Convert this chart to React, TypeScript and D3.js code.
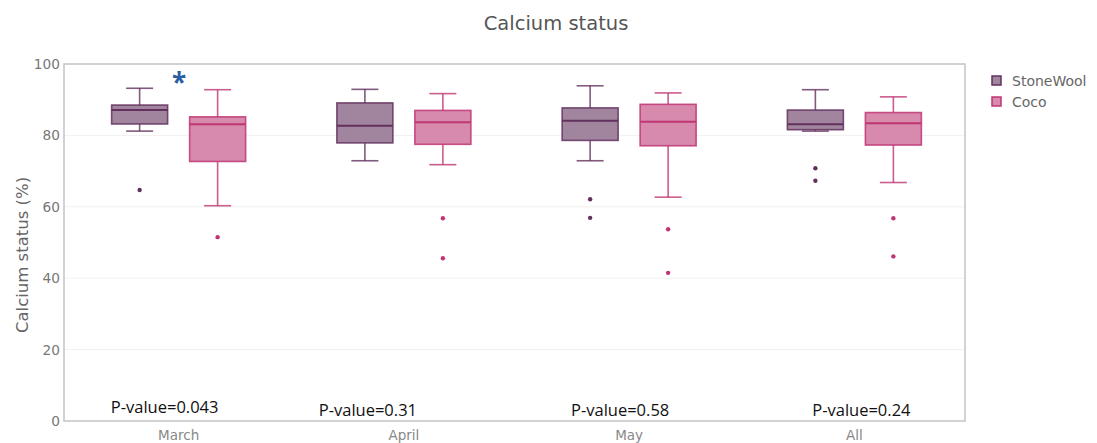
import React from 'react'
import * as d3 from 'd3'

// categories and series
const months = ['March', 'April', 'May', 'All']
const seriesNames = ['StoneWool', 'Coco']

// five-number summaries per month: [lowWhisker, q1, median, q3, highWhisker]
const stoneWoolBoxes = [
  [81.2, 83.2, 87.1, 88.5, 93.2],
  [72.9, 77.9, 82.7, 89.1, 92.9],
  [72.9, 78.6, 84.1, 87.7, 93.9],
  [81.2, 81.6, 83.1, 87.1, 92.8],
]
const cocoBoxes = [
  [60.3, 72.7, 83.1, 85.2, 92.8],
  [71.8, 77.5, 83.7, 87.0, 91.7],
  [62.7, 77.1, 83.8, 88.7, 91.9],
  [66.8, 77.3, 83.4, 86.4, 90.8],
]
const stoneWoolOutliers = [[64.7], [], [62.1, 56.9], [70.8, 67.3]]
const cocoOutliers = [[51.5], [56.8, 45.6], [53.7, 41.5], [56.8, 46.1]]

const pValues = ['P-value=0.043', 'P-value=0.31', 'P-value=0.58', 'P-value=0.24']
const pValueShift = [-14, -36, -9, 7]
const yTicks = [0, 20, 40, 60, 80, 100]

const colors = {
  StoneWool: { fill: '#a1849d', stroke: '#63315f' },
  Coco: { fill: '#d78aab', stroke: '#c03574' },
}

const W = 1097
const H = 443
const margin = { top: 64, right: 132, bottom: 22, left: 64 }
const dejavu = "'DejaVu Sans', Verdana, sans-serif"

export default function App() {
  const x = d3.scaleBand().domain(months).range([margin.left, W - margin.right])
  const y = d3.scaleLinear().domain([0, 100]).range([H - margin.bottom, margin.top])
  const offset = d3.scalePoint().domain(seriesNames).range([-39, 39])
  const boxW = 56
  const capW = 27

  const drawBox = (name: string, stats: number[], outs: number[], month: string) => {
    const c = colors[name as 'StoneWool' | 'Coco']
    const cx = (x(month) as number) + x.bandwidth() / 2 + 2 + (offset(name) as number)
    const [lo, q1, med, q3, hi] = stats
    return (
      <g key={name + month}>
        <line x1={cx} x2={cx} y1={y(hi)} y2={y(q3)} stroke={c.stroke} strokeWidth={1.6} opacity={0.8} />
        <line x1={cx} x2={cx} y1={y(q1)} y2={y(lo)} stroke={c.stroke} strokeWidth={1.6} opacity={0.8} />
        <line x1={cx - capW / 2} x2={cx + capW / 2} y1={y(hi)} y2={y(hi)} stroke={c.stroke} strokeWidth={1.6} opacity={0.8} />
        <line x1={cx - capW / 2} x2={cx + capW / 2} y1={y(lo)} y2={y(lo)} stroke={c.stroke} strokeWidth={1.6} opacity={0.8} />
        <rect x={cx - boxW / 2} y={y(q3)} width={boxW} height={y(q1) - y(q3)} fill={c.fill} stroke={c.stroke} strokeWidth={1.6} strokeOpacity={0.85} />
        <line x1={cx - boxW / 2} x2={cx + boxW / 2} y1={y(med)} y2={y(med)} stroke={c.stroke} strokeWidth={2} />
        {outs.map((o, i) => (
          <circle key={i} cx={cx} cy={y(o)} r={2.2} fill={c.stroke} />
        ))}
      </g>
    )
  }

  return (
    <svg width={W} height={H} style={{ position: 'absolute', left: 0, top: 0, background: '#fff' }}
      fontFamily={dejavu}>
      <text x={556} y={30} textAnchor="middle" fontSize={19.5} fill="#555">Calcium status</text>

      {/* grid */}
      {yTicks.filter(t => t > 0 && t < 100).map(t => (
        <line key={t} x1={margin.left} x2={W - margin.right} y1={y(t)} y2={y(t)} stroke="#f1f1f1" strokeWidth={1} />
      ))}
      {/* frame */}
      <rect x={margin.left} y={margin.top} width={W - margin.right - margin.left} height={y(0) - y(100)}
        fill="none" stroke="#c4c4c4" strokeWidth={1.5} />

      {yTicks.map(t => (
        <text key={t} x={60} y={y(t) + 5} textAnchor="end" fontSize={13.7} fill="#777">{t}</text>
      ))}
      <text transform={`translate(28,${255}) rotate(-90)`} textAnchor="middle" fontSize={16.5} fill="#666">
        Calcium status (%)
      </text>

      {months.map(m => (
        <text key={m} x={(x(m) as number) + x.bandwidth() / 2 + 2} y={440} textAnchor="middle" fontSize={13.5} fill="#888">{m}</text>
      ))}

      {months.map((m, i) => (
        <g key={m}>
          {drawBox('StoneWool', stoneWoolBoxes[i], stoneWoolOutliers[i], m)}
          {drawBox('Coco', cocoBoxes[i], cocoOutliers[i], m)}
        </g>
      ))}

      {months.map((m, i) => (
        <text key={'p' + m} x={(x(m) as number) + x.bandwidth() / 2 + 2 + pValueShift[i]} y={i === 0 ? 413 : 416}
          textAnchor="middle" fontSize={16.5} fill="#111" fontFamily="'Open Sans', sans-serif">{pValues[i]}</text>
      ))}

      <text x={179} y={92} textAnchor="middle" fontSize={26} fontWeight="bold" fill="#2a5d9f" fontFamily="'Open Sans', sans-serif">*</text>

      {seriesNames.map((s, i) => {
        const c = colors[s as 'StoneWool' | 'Coco']
        return (
          <g key={s} transform={`translate(992,${76 + i * 21})`}>
            <rect x={0} y={0} width={9} height={9} fill={c.fill} stroke={c.stroke} strokeWidth={1.5} />
            <text x={20} y={10} fontSize={14} fill="#666">{s}</text>
          </g>
        )
      })}
    </svg>
  )
}
